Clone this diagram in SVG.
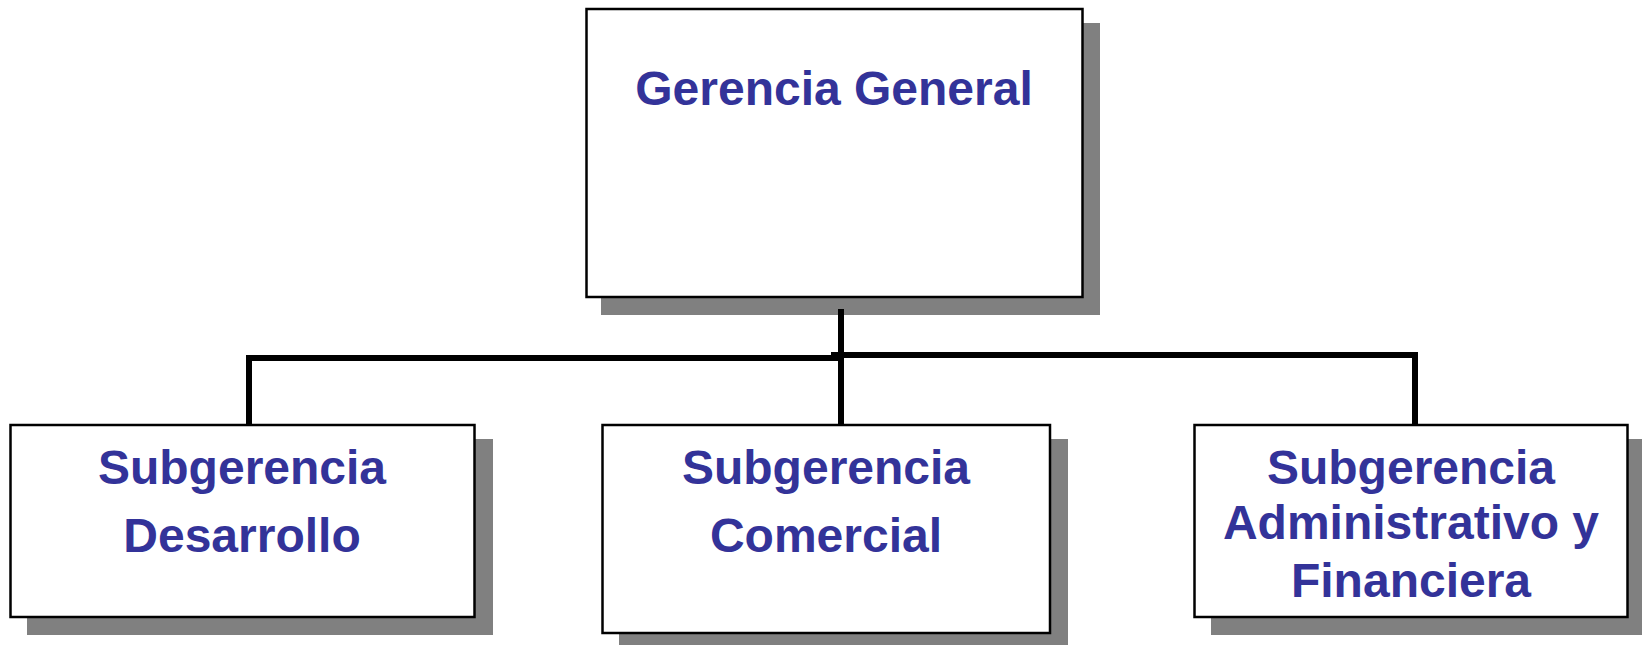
<svg xmlns="http://www.w3.org/2000/svg" width="1642" height="645" viewBox="0 0 1642 645">
<style>
.shadow{fill:#808080;stroke:none}
.box{fill:#ffffff;stroke:#000000;stroke-width:2.5}
.lbl{font-family:"Liberation Sans",Arial,sans-serif;font-weight:bold;font-size:48px;fill:#333399;text-anchor:middle}
.conn{fill:none;stroke:#000000;stroke-width:6;stroke-linecap:square}
</style>
<rect width="1642" height="645" fill="#ffffff"/>
<g id="gerencia-general">
<rect class="shadow" x="601" y="23" width="499" height="292"/>
<rect class="box" x="586.5" y="9" width="496" height="288"/>
<text class="lbl" x="834" y="105">Gerencia General</text>
</g>
<g id="connectors">
<polyline class="conn" points="841,312 841,422"/>
<polyline class="conn" points="841,358 249,358 249,421"/>
<polyline class="conn" points="834,355 1415,355 1415,422"/>
</g>
<g id="subgerencia-desarrollo">
<rect class="shadow" x="27" y="439" width="466" height="196"/>
<rect class="box" x="10.5" y="425" width="464" height="192"/>
<text class="lbl" x="242" y="484">Subgerencia</text>
<text class="lbl" x="242" y="552">Desarrollo</text>
</g>
<g id="subgerencia-comercial">
<rect class="shadow" x="619" y="439" width="449" height="211"/>
<rect class="box" x="602.5" y="425" width="447.5" height="208"/>
<text class="lbl" x="826" y="484">Subgerencia</text>
<text class="lbl" x="826" y="552">Comercial</text>
</g>
<g id="subgerencia-administrativo">
<rect class="shadow" x="1211" y="439" width="435" height="196"/>
<rect class="box" x="1194.5" y="425" width="433" height="192"/>
<text class="lbl" x="1411" y="484">Subgerencia</text>
<text class="lbl" x="1411" y="539">Administrativo y</text>
<text class="lbl" x="1411" y="597">Financiera</text>
</g>
</svg>
